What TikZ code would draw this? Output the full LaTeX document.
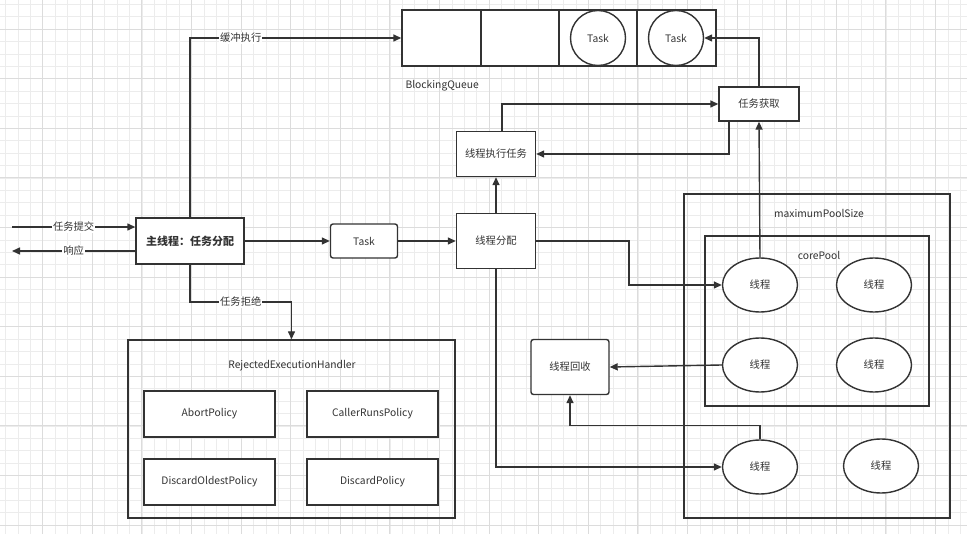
\documentclass[tikz,border=0pt]{standalone}
\usepackage{fontspec}
\newfontfamily\cjk{Noto Sans CJK SC}
\usetikzlibrary{arrows.meta,shapes.geometric}
\definecolor{ink}{HTML}{333333}
\definecolor{gridminor}{HTML}{ECECEC}
\definecolor{gridmajor}{HTML}{DCDCDC}
\begin{document}
\begin{tikzpicture}[x=1pt,y=-1pt,
    every node/.style={font=\cjk\fontsize{10.3}{12}\selectfont, text=ink},
    frame/.style={draw=ink, line width=1.4pt, rectangle, inner sep=0pt},
    box/.style={frame, fill=white},
    rbox/.style={box, rounded corners=2.5pt},
    thread/.style={draw=ink, fill=white, line width=1.4pt, ellipse, minimum width=75pt, minimum height=54pt, inner sep=0pt},
    taskc/.style={draw=ink, fill=white, line width=1.4pt, circle, minimum size=55pt, inner sep=0pt},
    arr/.style={draw=ink, line width=1.4pt, -{Triangle[length=8pt,width=7pt]}},
    lbl/.style={fill=white, inner sep=1pt}]
    \useasboundingbox (0,0) rectangle (967,534);
    \fill[white] (0,0) rectangle (967,534);

    % background grid
    \foreach \gx in {5.5,17.9,...,967} \draw[gridminor, line width=0.7pt] (\gx,0) -- (\gx,534);
    \foreach \gy in {4.3,16.7,...,534} \draw[gridminor, line width=0.7pt] (0,\gy) -- (967,\gy);
    \foreach \gx in {-6.9,42.7,...,967} \draw[gridmajor, line width=0.9pt] (\gx,0) -- (\gx,534);
    \foreach \gy in {29.1,78.7,...,534} \draw[gridmajor, line width=0.9pt] (0,\gy) -- (967,\gy);

    % BlockingQueue
    \node[box, minimum width=314pt, minimum height=56pt] (queue) at (559,38) {};
    \foreach \dx in {481,559,637} \draw[ink, line width=1.4pt] (\dx,10) -- (\dx,66);
    \node[taskc] (task1) at (598,38) {Task};
    \node[taskc] (task2) at (676,38) {Task};
    \node[anchor=west] (qlabel) at (402,86) {BlockingQueue};

    % main thread
    \node[box, minimum width=108pt, minimum height=46pt, font=\cjk\fontsize{11}{13}\selectfont\bfseries] (main) at (190,241) {主线程：任务分配};
    \coordinate (inL) at (12,227);
    \coordinate (outL) at (12,251);
    \draw[arr] (inL) -- node[lbl] {任务提交} (main.west |- inL);
    \draw[arr] (main.west |- outL) -- node[lbl] {响应} (outL);
    \draw[arr] (main.north) |- node[lbl, pos=0.62] {缓冲执行} (queue.west);

    % task dispatch
    \node[rbox, minimum width=67pt, minimum height=34pt] (task) at (364,241) {Task};
    \node[box, minimum width=79pt, minimum height=55pt] (assign) at (496,241) {线程分配};
    \node[box, minimum width=79pt, minimum height=45pt] (exec) at (496,154) {线程执行任务};
    \node[box, minimum width=80pt, minimum height=34pt] (fetch) at (759,104) {任务获取};
    \draw[arr] (main) -- (task);
    \draw[arr] (task) -- (assign);
    \draw[arr] (assign) -- (exec);
    \draw[arr] ([xshift=6pt]exec.north) |- (fetch.west);
    \draw[arr] ([xshift=-30pt]fetch.south) |- (exec.east);
    \draw[arr] (fetch.north) |- (task2.east);

    % rejection
    \node[frame, minimum width=327pt, minimum height=178pt] (reject) at (291.5,429) {};
    \node (rlabel) at (292,366) {RejectedExecutionHandler};
    \node[box, minimum width=131pt, minimum height=46pt] (abort) at (209.5,414) {AbortPolicy};
    \node[box, minimum width=131pt, minimum height=46pt] (caller) at (372.5,414) {CallerRunsPolicy};
    \node[box, minimum width=131pt, minimum height=46pt] (oldest) at (209.5,482) {DiscardOldestPolicy};
    \node[box, minimum width=131pt, minimum height=46pt] (discard) at (372.5,482) {DiscardPolicy};
    \coordinate (rbend) at (190,302);
    \draw[arr] (main.south) -- (rbend) -- node[lbl] {任务拒绝} (rbend -| reject.north) -- (reject.north);

    % thread pool
    \node[frame, minimum width=266pt, minimum height=324pt] (maxpool) at (817,356) {};
    \node (maxlabel) at (819,213) {maximumPoolSize};
    \node[frame, minimum width=224pt, minimum height=170pt] (corepool) at (817,321) {};
    \node (corelabel) at (819,255) {corePool};
    \node[thread] (t1) at (760,285) {线程};
    \node[thread] (t2) at (874,285) {线程};
    \node[thread] (t3) at (760,365) {线程};
    \node[thread] (t4) at (874,365) {线程};
    \node[thread] (t5) at (760,467) {线程};
    \node[thread] (t6) at (881,466) {线程};
    \node[rbox, minimum width=78pt, minimum height=55pt] (recycle) at (570,367) {线程回收};

    \coordinate (abend) at (629,241);
    \draw[arr] (assign.east) -- (abend) |- (t1.west);
    \draw[arr] (assign.south) |- (t5.west);
    \draw[arr] (t1.north) -- (fetch.south);
    \draw[arr] (t3.west) -- (recycle.east);
    \draw[arr] (t5.north) -- ++(0,-14) -| (recycle.south);
\end{tikzpicture}
\end{document}
